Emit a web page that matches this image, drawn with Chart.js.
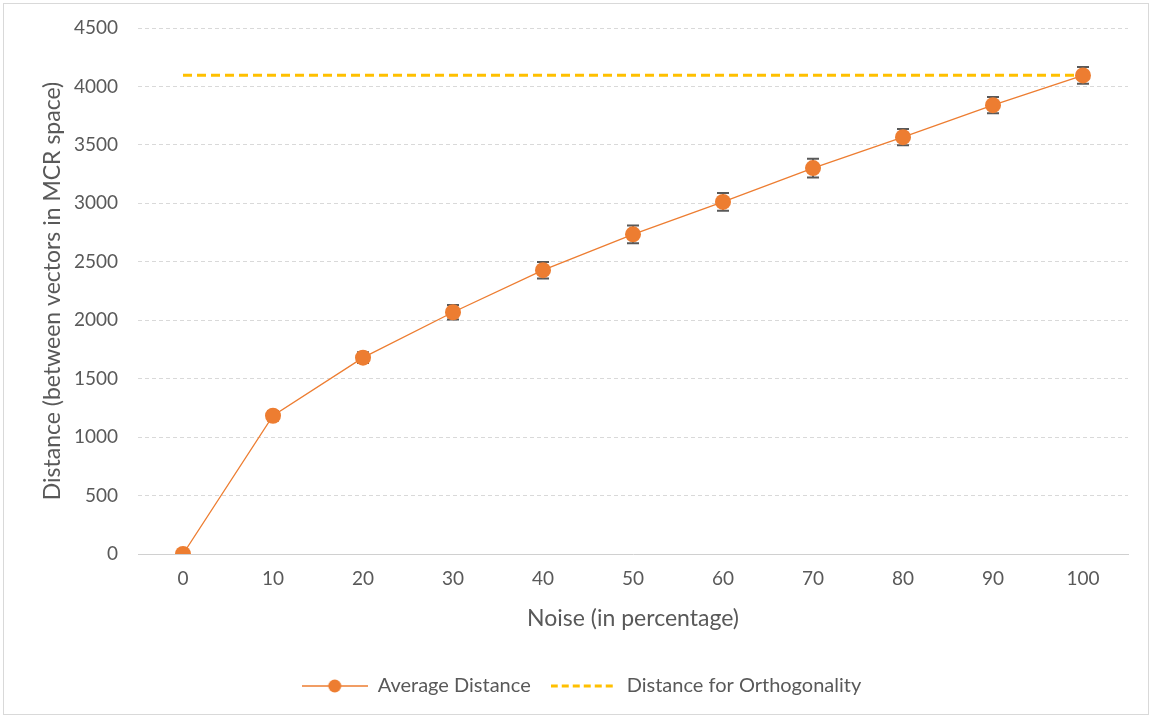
<!DOCTYPE html>
<html>
<head>
<meta charset="utf-8">
<script src="https://cdn.jsdelivr.net/npm/chart.js@4/dist/chart.umd.min.js"></script>
<style>
  html, body { margin: 0; padding: 0; background: #fff; }
  #wrap {
    position: absolute; left: 3px; top: 3px;
    width: 1146px; height: 712px;
    border: 1px solid #d9d9d9; box-sizing: border-box;
  }
  canvas { display: block; }
</style>
</head>
<body>
<div id="wrap"><canvas id="chart" width="1144" height="710"></canvas></div>
<script>
// ----------------------------
// DATA
// ----------------------------
const noiseLevels = ["0", "10", "20", "30", "40", "50", "60", "70", "80", "90", "100"];
const avgDistance = [0, 1183, 1680, 2068, 2428, 2735, 3012, 3302, 3566, 3840, 4094];
const errDistance = [0, 40, 45, 62, 70, 76, 76, 80, 70, 70, 72];
const orthoDistance = [4096, 4096, 4096, 4096, 4096, 4096, 4096, 4096, 4096, 4096, 4096];
const yTicks = [0, 500, 1000, 1500, 2000, 2500, 3000, 3500, 4000, 4500];

const ORANGE = "#ED7D31";
const YELLOW = "#FFC000";
const TEXT = "#595959";
const FONT = "Lato, 'Open Sans', sans-serif";

// ----------------------------
// LEGEND ICONS
// ----------------------------
function makeIcon(draw) {
    const c = document.createElement("canvas");
    c.width = 66; c.height = 16;
    draw(c.getContext("2d"));
    return c;
}
const avgIcon = makeIcon(ctx => {
    ctx.strokeStyle = ORANGE; ctx.lineWidth = 1.3;
    ctx.beginPath(); ctx.moveTo(0, 8); ctx.lineTo(66, 8); ctx.stroke();
    ctx.fillStyle = ORANGE;
    ctx.beginPath(); ctx.arc(33, 8, 6.5, 0, Math.PI * 2); ctx.fill();
});
const orthoIcon = makeIcon(ctx => {
    ctx.strokeStyle = YELLOW; ctx.lineWidth = 3;
    ctx.setLineDash([7, 4]);
    ctx.beginPath(); ctx.moveTo(0, 8); ctx.lineTo(66, 8); ctx.stroke();
});

// ----------------------------
// ERROR BARS (drawn through the scales)
// ----------------------------
const errorBars = {
    id: "errorBars",
    beforeDatasetsDraw(chart) {
        const { ctx, scales } = chart;
        ctx.save();
        ctx.strokeStyle = "#595959";
        ctx.lineWidth = 2;
        avgDistance.forEach((v, i) => {
            const e = errDistance[i];
            if (!e) return;
            const x = scales.x.getPixelForValue(i);
            const yTop = scales.y.getPixelForValue(v + e);
            const yBot = scales.y.getPixelForValue(v - e);
            ctx.beginPath();
            ctx.moveTo(x, yTop); ctx.lineTo(x, yBot);
            ctx.moveTo(x - 6, yTop); ctx.lineTo(x + 6, yTop);
            ctx.moveTo(x - 6, yBot); ctx.lineTo(x + 6, yBot);
            ctx.stroke();
        });
        ctx.restore();
    }
};

// ----------------------------
// CHART
// ----------------------------
new Chart(document.getElementById("chart").getContext("2d"), {
    type: "line",
    data: {
        labels: noiseLevels,
        datasets: [
            {
                label: "Average Distance",
                data: avgDistance,
                borderColor: ORANGE,
                backgroundColor: ORANGE,
                borderWidth: 1.3,
                pointRadius: 8,
                pointHoverRadius: 8,
                pointBorderWidth: 0,
                pointStyle: "circle",
                order: 1
            },
            {
                label: "Distance for Orthogonality",
                data: orthoDistance,
                borderColor: YELLOW,
                backgroundColor: YELLOW,
                borderWidth: 3,
                borderDash: [9, 5],
                pointRadius: 0,
                order: 2
            }
        ]
    },
    options: {
        responsive: false,
        animation: false,
        layout: { padding: { top: 24, right: 20, left: 31, bottom: 8 } },
        plugins: {
            tooltip: { enabled: false },
            legend: {
                position: "bottom",
                labels: {
                    color: TEXT,
                    font: { family: FONT, size: 20 },
                    usePointStyle: true,
                    pointStyleWidth: 66,
                    boxHeight: 16,
                    padding: 20,
                    generateLabels: chart => chart.data.datasets.map((ds, i) => ({
                        text: ds.label,
                        pointStyle: i === 0 ? avgIcon : orthoIcon,
                        fontColor: TEXT,
                        lineWidth: 0,
                        datasetIndex: i
                    }))
                }
            }
        },
        scales: {
            x: {
                offset: true,
                grid: { display: false, drawTicks: false },
                border: { display: true, color: "#d0d0d0", width: 1 },
                ticks: { color: TEXT, font: { family: FONT, size: 19 }, padding: 13 },
                title: {
                    display: true, text: "Noise (in percentage)",
                    color: TEXT, font: { family: FONT, size: 23 }, padding: { top: 0, bottom: 24 }
                },
                afterFit: s => { s.height = 102; }
            },
            y: {
                min: 0, max: 4500,
                afterBuildTicks: s => { s.ticks = yTicks.map(v => ({ value: v })); },
                grid: {
                    color: ctx => ctx.tick.value === 0 ? "#d0d0d0" : "#d9d9d9",
                    drawTicks: false
                },
                border: { display: false, dash: [4, 3] },
                ticks: {
                    color: TEXT, font: { family: FONT, size: 19 }, padding: 20,
                    callback: v => String(v)
                },
                title: {
                    display: true, text: "Distance (between vectors in MCR space)",
                    color: TEXT, font: { family: FONT, size: 23 }, padding: { bottom: 6 }
                },
                afterFit: s => { s.width = 103; s.paddingTop = 0; s.paddingBottom = 0; }
            }
        }
    },
    plugins: [errorBars]
});
</script>
</body>
</html>
